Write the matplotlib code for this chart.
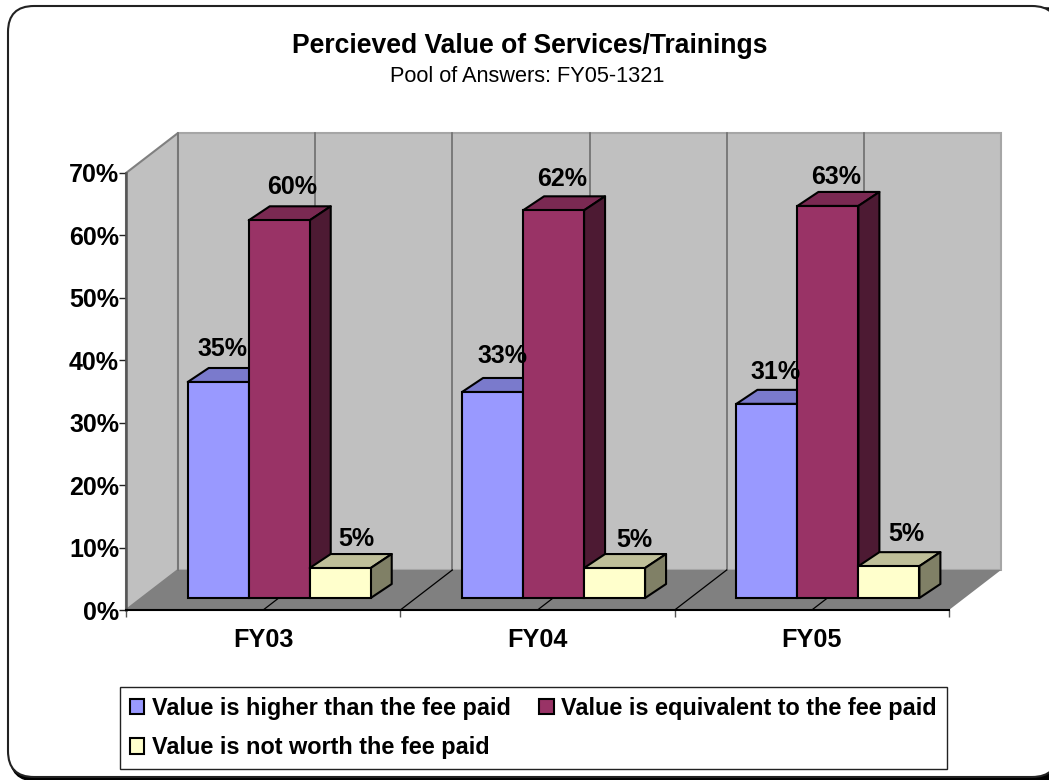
"""Percieved value of services/trainings: Excel-style 3D clustered columns."""

import matplotlib

matplotlib.use("Agg")
import matplotlib.pyplot as plt
from matplotlib.patches import FancyBboxPatch, Patch, Polygon

plt.rcParams["font.family"] = ["Liberation Sans", "DejaVu Sans"]

years = ["FY03", "FY04", "FY05"]
series_names = [
    "Value is higher than the fee paid",
    "Value is equivalent to the fee paid",
    "Value is not worth the fee paid",
]
higher = [34.6, 33.0, 31.1]
equivalent = [60.5, 62.1, 62.8]
not_worth = [4.8, 4.8, 5.1]
higher_labels = ["35%", "33%", "31%"]
equivalent_labels = ["60%", "62%", "63%"]
not_worth_labels = ["5%", "5%", "5%"]
y_ticks = [0, 10, 20, 30, 40, 50, 60, 70]

W, H = 1049, 780
# axes box in pixels, 0% / 70% on the front plane
AX_L, AX_R, AX_TOP, AX_BOT = 126, 949, 173, 610
PX_X = (AX_R - AX_L) / 3
PX_Y = (AX_BOT - AX_TOP) / 70
WALL_DX, WALL_DY = 52 / PX_X, 40 / PX_Y
BAR_DX, BAR_DY = 21 / PX_X, 14 / PX_Y
BAR_W = 61 / PX_X
BAR_BASE = 12 / PX_Y
GROUP_OFFSET = 0.225

# face, top, side
colors = [
    ("#9999FF", "#7A7ACC", "#4C4C80"),
    ("#993366", "#7A2952", "#4D1A33"),
    ("#FFFFCC", "#BFBF99", "#808066"),
]
# data label centres relative to the front-top-centre of each bar, in pixels
label_nudge = [
    [(4, 33), (9.5, 36), (9, 32)],
    [(13, 33), (8.5, 31), (8, 29)],
    [(16, 29), (19.5, 28), (17, 32)],
]

fig = plt.figure(figsize=(W / 100, H / 100), dpi=100)

bg = fig.add_axes([0, 0, 1, 1], zorder=0)
bg.set_xlim(0, W)
bg.set_ylim(H, 0)
bg.axis("off")


def round_box(left, top, right, bottom, radius=26, **kw):
    bg.add_patch(FancyBboxPatch((left + radius, top + radius), right - left - 2 * radius, bottom - top - 2 * radius,
                                boxstyle=f"round,pad={radius}", clip_on=False, **kw))


round_box(10, 8, 1080, 781, fc="black", ec="black")
round_box(8, 6, 1058, 777, fc="white", ec="#222222", lw=1.5)
bg.text(529.5, 46, "Percieved Value of Services/Trainings", ha="center", va="center",
        fontsize=19.1, fontweight="bold", color="black")
bg.text(527, 77, "Pool of Answers: FY05-1321", ha="center", va="center", fontsize=15.7, color="black")

ax = fig.add_axes([AX_L / W, 1 - AX_BOT / H, (AX_R - AX_L) / W, (AX_BOT - AX_TOP) / H], zorder=1)
ax.patch.set_visible(False)
ax.set_xlim(0, 3)
ax.set_ylim(0, 70)

# walls and floor
ax.add_patch(Polygon([(0, 0), (WALL_DX, WALL_DY), (WALL_DX, 70 + WALL_DY), (0, 70)],
                     fc="#C0C0C0", ec="#808080", lw=1.5, clip_on=False, zorder=1))
ax.add_patch(Polygon([(WALL_DX, WALL_DY), (3 + WALL_DX, WALL_DY), (3 + WALL_DX, 70 + WALL_DY), (WALL_DX, 70 + WALL_DY)],
                     fc="#C0C0C0", ec="#A6A6A6", lw=1.5, clip_on=False, zorder=1))
ax.add_patch(Polygon([(0, 0), (3, 0), (3 + WALL_DX, WALL_DY), (WALL_DX, WALL_DY)],
                     fc="#808080", ec="none", clip_on=False, zorder=2))
for i in range(6):
    pos = i / 2
    ax.plot([pos + WALL_DX] * 2, [WALL_DY, 70 + WALL_DY], color="#6E6E6E", lw=1.2, clip_on=False, zorder=2)
    if i:
        ax.plot([pos, pos + WALL_DX], [0, WALL_DY], color="black", lw=0.9, clip_on=False, zorder=3)

# bars, left to right so that later ones cover earlier ones
values = [higher, equivalent, not_worth]
labels = [higher_labels, equivalent_labels, not_worth_labels]
z = 4
for g in range(len(years)):
    for s, vals in enumerate(values):
        face, top, side = colors[s]
        x0 = g + GROUP_OFFSET + s * BAR_W
        x1 = x0 + BAR_W
        y1 = BAR_BASE + vals[g]
        edge = dict(ec="black", lw=1.5, joinstyle="round", clip_on=False, zorder=z)
        ax.add_patch(Polygon([(x0, y1), (x1, y1), (x1 + BAR_DX, y1 + BAR_DY), (x0 + BAR_DX, y1 + BAR_DY)],
                             fc=top, **edge))
        ax.add_patch(Polygon([(x1, BAR_BASE), (x1 + BAR_DX, BAR_BASE + BAR_DY), (x1 + BAR_DX, y1 + BAR_DY), (x1, y1)],
                             fc=side, **edge))
        ax.bar(x0, vals[g], BAR_W, bottom=BAR_BASE, align="edge", color=face, edgecolor="black",
               linewidth=1.5, clip_on=False, zorder=z + 0.5)
        z += 1

for g in range(len(years)):
    for s, vals in enumerate(values):
        x_mid = g + GROUP_OFFSET + (s + 0.5) * BAR_W
        ax.annotate(labels[s][g], (x_mid, BAR_BASE + vals[g]), xytext=label_nudge[s][g], textcoords="offset pixels",
                    ha="center", va="center", fontsize=18, fontweight="bold", zorder=40, annotation_clip=False)

for name in ("top", "right"):
    ax.spines[name].set_visible(False)
ax.spines["left"].set_color("#555555")
ax.spines["left"].set_linewidth(1.8)
ax.spines["bottom"].set_color("black")
ax.spines["bottom"].set_linewidth(1.5)
ax.spines["left"].set_zorder(3)
ax.spines["bottom"].set_zorder(3)

ax.set_yticks(y_ticks)
ax.set_yticklabels([f"{v}%" for v in y_ticks], fontsize=18, fontweight="bold")
ax.tick_params(axis="y", length=5, width=1, color="#222222", pad=0)
ax.set_xticks(range(4))
ax.set_xticklabels([])
ax.tick_params(axis="x", which="major", length=5, width=1, color="#555555")
ax.set_xticks([0.5, 1.5, 2.5], minor=True)
ax.set_xticklabels(years, minor=True, fontsize=18.2, fontweight="bold")
ax.tick_params(axis="x", which="minor", length=0, pad=13)

handles = [Patch(fc=colors[s][0], ec="black", lw=1.5) for s in (0, 2, 1)]
names = [series_names[s] for s in (0, 2, 1)]
leg = ax.legend(handles, names, ncols=2, loc="upper left", bbox_to_anchor=(120, 687), bbox_transform=bg.transData,
                prop={"size": 16.9, "weight": "bold"}, frameon=True, fancybox=False, edgecolor="#222222",
                framealpha=1, borderaxespad=0, borderpad=0.42, handlelength=0.62, handleheight=0.62,
                handletextpad=0.32, columnspacing=1.2, labelspacing=0.7)
leg.get_frame().set_linewidth(1)
leg.set_zorder(50)

fig.savefig("out.png", dpi=100)
